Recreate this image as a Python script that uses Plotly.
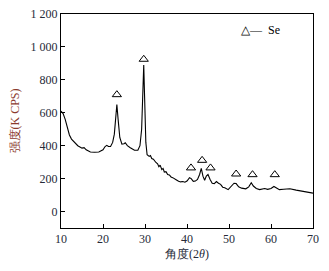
import plotly.graph_objects as go

angle = [10, 10.5, 11, 11.5, 12, 12.5, 13, 14, 15, 15.5, 16, 17, 18, 19, 20, 20.5, 20.9, 21.3, 21.8, 22.3,
         22.7, 23.0, 23.3, 23.6, 24.0, 24.5, 25.0, 25.3, 25.8, 26.5, 27.5, 28.3, 28.8, 29.2, 29.5, 29.7,
         29.9, 30.2, 30.5, 31.0, 31.3, 31.6, 32.0, 32.3, 32.6, 33.0, 33.3, 33.6, 34.0, 34.3, 34.6, 35.0,
         35.4, 35.8, 36.2, 36.6, 37.0, 37.5, 38.0, 38.5, 39.0, 39.5, 40.0, 40.6, 41.0, 41.5, 42.0, 42.5,
         43.0, 43.4, 43.8, 44.2, 44.6, 45.0, 45.5, 46.0, 46.5, 47.0, 47.5, 48.0, 48.5, 49.0, 49.8, 50.5,
         51.2, 51.7, 52.3, 53.0, 54.0, 54.7, 55.3, 55.8, 56.5, 57.3, 58.0, 58.5, 59.2, 60.0, 60.7, 61.2,
         62.0, 63.0, 64.5, 66.0, 68.0, 70.0]
intensity = [610, 595, 560, 510, 465, 440, 425, 400, 385, 388, 375, 362, 360, 362, 375, 395, 402, 395, 395, 420,
             470, 560, 650, 560, 450, 410, 412, 418, 400, 388, 372, 372, 400, 500, 760, 890,
             700, 420, 345, 335, 340, 322, 318, 305, 298, 290, 272, 282, 255, 262, 240, 242,
             225, 222, 210, 206, 198, 192, 184, 180, 182, 178, 185, 205, 200, 183, 185, 195,
             225, 262, 215, 190, 215, 225, 195, 172, 170, 182, 172, 165, 148, 145, 133, 150,
             172, 170, 150, 142, 138, 150, 175, 155, 140, 133, 135, 140, 135, 140, 152, 145,
             133, 135, 138, 130, 123, 112]

se_x = [23.3, 29.7, 40.95, 43.6, 45.6, 51.7, 55.6, 60.9]
se_y = [710, 925, 265, 311, 265, 228, 224, 224]

y_ticks = [0, 200, 400, 600, 800, 1000, 1200]
y_tick_text = ["0", "200", "400", "600", "800", "1 000", "1 200"]
x_ticks = [10, 20, 30, 40, 50, 60, 70]

tick_color = "#262a38"
title_color = "#8b3a2e"
font_family = "Liberation Serif"

fig = go.Figure()
fig.add_trace(go.Scatter(x=angle, y=intensity, mode="lines",
                         line=dict(color="black", width=1.1), showlegend=False))
fig.add_trace(go.Scatter(x=se_x, y=se_y, mode="markers",
                         marker=dict(symbol="triangle-up-open", size=8, color="black",
                                     line=dict(width=1)),
                         showlegend=False))

fig.add_annotation(x=0.705, y=0.925, xref="paper", yref="paper", xanchor="left", yanchor="middle",
                   text="△—&nbsp;&nbsp;Se", showarrow=False,
                   font=dict(family=font_family, size=12, color="black"))

fig.update_layout(
    width=329, height=271,
    margin=dict(l=61, r=16, t=14, b=43, autoexpand=False),
    paper_bgcolor="white", plot_bgcolor="white",
    font=dict(family=font_family, size=12, color=tick_color),
)
fig.update_xaxes(range=[10, 70], tickvals=x_ticks, ticks="inside", ticklen=4, automargin=False,
                 tickcolor="black", showline=True, linecolor="black", linewidth=1, mirror=True,
                 showgrid=False, zeroline=False,
                 tickfont=dict(family=font_family, size=12, color=tick_color),
                 title=dict(text="角度(2<i>θ</i>)", standoff=4,
                            font=dict(family=font_family, size=12, color=tick_color)))
fig.update_yaxes(range=[-100, 1200], tickvals=y_ticks, ticktext=y_tick_text, ticks="inside", ticklen=4,
                 automargin=False,
                 tickcolor="black", showline=True, linecolor="black", linewidth=1, mirror=True,
                 showgrid=False, zeroline=False,
                 tickfont=dict(family=font_family, size=12, color=tick_color),
                 title=dict(text="强度(K CPS)", standoff=8,
                            font=dict(family=font_family, size=12, color=title_color)))

fig.write_html("out.html", config={"displayModeBar": False},
               post_script="document.body.style.margin='0';document.body.style.padding='0';")
